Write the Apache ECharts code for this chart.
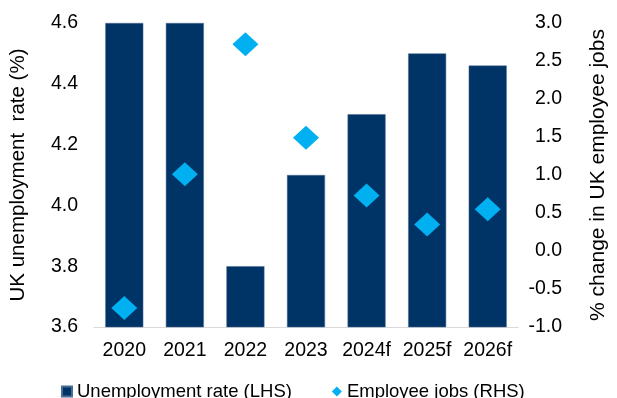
<!DOCTYPE html>
<html>
<head>
<meta charset="utf-8">
<script src="https://cdn.jsdelivr.net/npm/echarts@6/dist/echarts.min.js"></script>
<style>html,body{margin:0;padding:0;background:#fff}#c{width:617px;height:398px}</style>
</head>
<body>
<div id="c"></div>
<script>
var categories = ['2020', '2021', '2022', '2023', '2024f', '2025f', '2026f'];
var unemploymentRate = [4.6, 4.6, 3.8, 4.1, 4.3, 4.5, 4.46];
var employeeJobs = [-0.75, 1.01, 2.72, 1.49, 0.73, 0.35, 0.55];
var leftTicks = [3.6, 4.6, 0.2];
var rightTicks = [-1.0, 3.0, 0.5];

var FONT = 'Liberation Sans, Arial, sans-serif';
var chart = echarts.init(document.getElementById('c'), null, {renderer: 'canvas'});
chart.setOption({
  animation: false,
  textStyle: {fontFamily: FONT},
  grid: {left: 89, right: 95, top: 23, bottom: 71},
  legend: {
    left: 56, top: 377,
    itemWidth: 10, itemHeight: 10, itemGap: 40,
    textStyle: {fontSize: 18.5, color: '#000', fontFamily: FONT},
    data: [
      {name: 'Unemployment rate (LHS)', icon: 'rect'},
      {name: 'Employee jobs (RHS)', icon: 'diamond'}
    ]
  },
  xAxis: {
    type: 'category', data: categories,
    axisLine: {onZero: false, lineStyle: {color: '#d9d9d9', width: 1}},
    axisTick: {show: false},
    axisLabel: {color: '#000', fontSize: 19.5, margin: 14, interval: 0, fontFamily: FONT}
  },
  yAxis: [{
    type: 'value', min: leftTicks[0], max: leftTicks[1], interval: leftTicks[2],
    name: 'UK unemployment  rate (%)', nameLocation: 'middle', nameGap: 65, nameRotate: 90,
    nameTextStyle: {fontSize: 20.5, color: '#000', fontFamily: FONT},
    axisLine: {show: false}, axisTick: {show: false}, splitLine: {show: false},
    axisLabel: {color: '#000', fontSize: 19.5, margin: 16, fontFamily: FONT, formatter: function(v){return v.toFixed(1);}}
  }, {
    type: 'value', min: rightTicks[0], max: rightTicks[1], interval: rightTicks[2],
    name: '% change in UK employee jobs', nameLocation: 'middle', nameGap: 70, nameRotate: 90,
    nameTextStyle: {fontSize: 21, color: '#000', fontFamily: FONT},
    axisLine: {show: false}, axisTick: {show: false}, splitLine: {show: false},
    axisLabel: {color: '#000', fontSize: 19.5, margin: 44, align: 'right', fontFamily: FONT, formatter: function(v){return v.toFixed(1);}}
  }],
  series: [{
    name: 'Unemployment rate (LHS)', type: 'bar', yAxisIndex: 0,
    data: unemploymentRate, barWidth: 38,
    itemStyle: {color: '#003366', borderColor: '#4a6d94', borderWidth: 0.5}
  }, {
    name: 'Employee jobs (RHS)', type: 'scatter', yAxisIndex: 1,
    data: employeeJobs, symbol: 'diamond', symbolSize: [26, 24],
    itemStyle: {color: '#00B0F0', opacity: 1}
  }]
});
</script>
</body>
</html>
